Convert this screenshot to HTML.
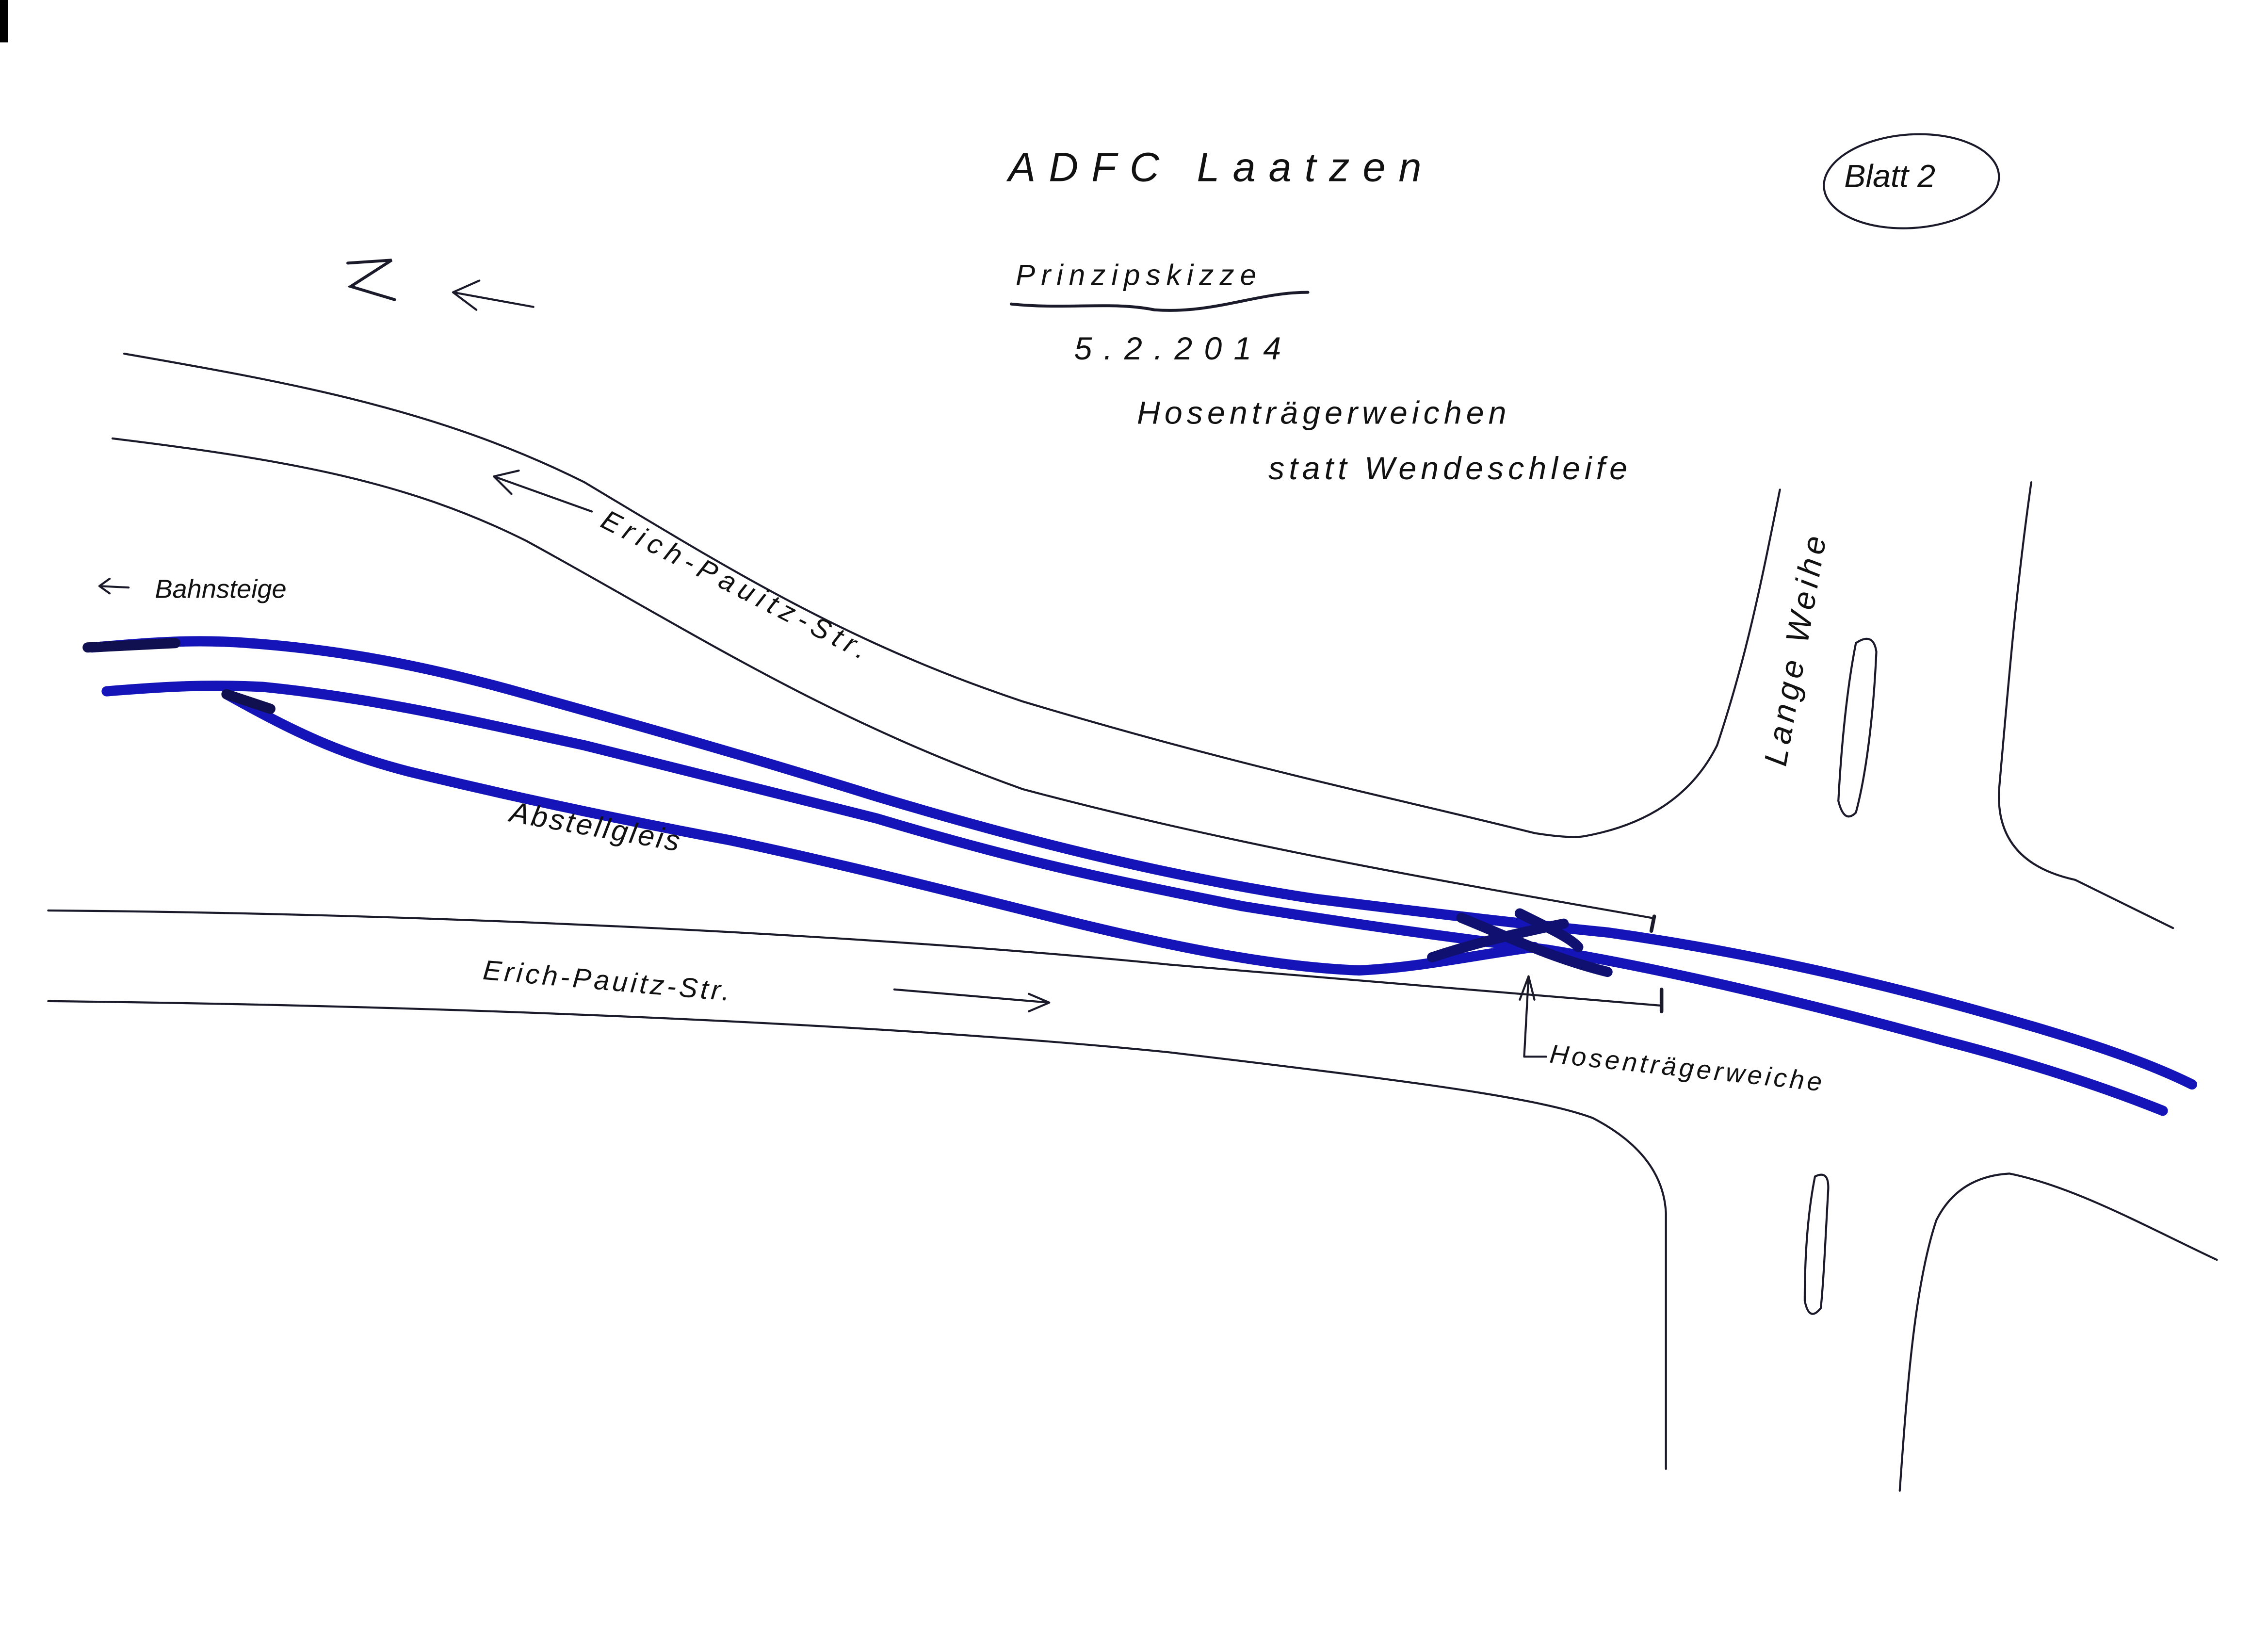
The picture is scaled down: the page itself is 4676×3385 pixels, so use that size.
<!DOCTYPE html>
<html><head><meta charset="utf-8"><style>
html,body{margin:0;padding:0;background:#fff;}
svg{display:block;}
text{font-family:"Liberation Sans",sans-serif;font-style:italic;fill:#111;}
</style></head><body>
<svg width="4676" height="3385" viewBox="0 0 1552 1123.5" xmlns="http://www.w3.org/2000/svg">
<rect x="0" y="0" width="1552" height="1124" fill="#fff"/>
<rect x="0" y="0" width="5.6" height="29" fill="#000"/>
<g fill="none" stroke="#1a1a2a" stroke-width="1.4" stroke-linecap="round">
<path d="M85,242 C200,262 300,280 400,330 C500,390 580,440 700,480 C850,525 950,545 1050,570 Q1075,574 1085,572 Q1150,560 1175,510 C1195,450 1205,400 1218,335"/>
<path d="M77,300 C200,315 280,330 360,370 C470,430 560,490 700,540 C850,580 1000,605 1130,628"/>
<path d="M33,623 C300,625 600,640 800,660 C950,672 1050,680 1136,688"/>
<path d="M33,685 C300,688 600,700 800,720 C950,738 1050,750 1090,765 Q1138,790 1140,830 L1140,1005"/>
<path d="M1390,330 C1380,400 1375,460 1368,540 Q1365,590 1420,602 L1487,635"/>
<path d="M1300,1020 C1305,950 1310,880 1325,835 Q1340,805 1375,803 C1420,812 1470,840 1517,862"/>
<path d="M1270,440 Q1282,432 1284,446 C1282,490 1277,530 1270,556 Q1262,564 1258,548 C1260,510 1264,470 1270,440Z"/>
<path d="M1242,805 Q1252,800 1251,815 C1249,850 1248,875 1246,895 Q1238,905 1235,890 C1235,860 1237,830 1242,805Z"/>
<path d="M310,200 L365,210 M310,200 L328,192 M310,200 L326,212"/>
<path d="M338,326 L405,350 M338,326 L355,322 M338,326 L350,338"/>
<path d="M612,677 L718,686 M718,686 L704,680 M718,686 L704,692"/>
<path d="M68,401 L88,402 M68,401 L75,396 M68,401 L75,406"/>
<path d="M1043,723 L1046,668 M1046,668 L1040,684 M1046,668 L1050,684 M1043,723 L1058,723"/>
<path d="M692,208 C730,212 760,206 790,212 C830,215 860,200 895,200" stroke-width="2"/>
<path d="M1132,627 l-2,10 M1137,677 l0,15" stroke-width="2.5"/>
<ellipse cx="1308" cy="124" rx="60" ry="32" transform="rotate(-4 1308 124)"/>
<path d="M238,180 L268,178 L240,196 L270,205" stroke-width="2"/>
</g>
<g fill="none" stroke-linecap="round" stroke-linejoin="round">
<path d="M63,443 C100,440 130,437 170,440 C240,445 300,458 360,475 C450,500 520,520 600,545 C700,575 800,600 900,615 C980,625 1040,632 1100,638 C1200,652 1300,675 1400,705 C1450,720 1480,732 1500,742" stroke="#1414b8" stroke-width="7"/>
<path d="M73,473 C110,470 140,468 180,470 C260,478 330,495 400,510 C480,530 540,545 600,560 C700,590 760,602 850,620 C950,636 1000,642 1060,650 C1150,665 1250,690 1330,712 C1400,730 1450,748 1480,760" stroke="#1414b8" stroke-width="7"/>
<path d="M155,475 C200,500 230,515 280,528 C350,545 420,560 500,575 C580,592 650,610 730,630 C820,652 880,662 930,664 C970,662 1000,655 1050,648" stroke="#1414b8" stroke-width="7"/>
<path d="M1000,628 C1030,640 1060,655 1100,665 M1040,625 C1060,635 1075,642 1080,648 M980,655 C1010,645 1040,638 1070,632" stroke="#101070" stroke-width="7"/>
<path d="M60,443 L120,440 M155,475 L185,485" stroke="#101050" stroke-width="7"/>
</g>
<text x="690" y="124" font-size="28" letter-spacing="9">ADFC Laatzen</text>
<text x="1262" y="128" font-size="22">Blatt 2</text>
<text x="695" y="195" font-size="20" letter-spacing="4">Prinzipskizze</text>
<text x="735" y="246" font-size="22" letter-spacing="8">5.2.2014</text>
<text x="778" y="290" font-size="22" letter-spacing="3">Hosenträgerweichen</text>
<text x="868" y="328" font-size="22" letter-spacing="3">statt Wendeschleife</text>
<text x="106" y="409" font-size="18">Bahnsteige</text>
<text x="410" y="360" font-size="19" letter-spacing="4" transform="rotate(27 410 360)">Erich-Pauitz-Str.</text>
<text x="348" y="562" font-size="20" letter-spacing="1.5" transform="rotate(10 348 562)">Abstellgleis</text>
<text x="330" y="670" font-size="19" letter-spacing="2" transform="rotate(5 330 670)">Erich-Pauitz-Str.</text>
<text x="1222" y="525" font-size="22" letter-spacing="3" transform="rotate(-80 1222 525)">Lange Weihe</text>
<text x="1060" y="727" font-size="18" letter-spacing="2" transform="rotate(6 1060 727)">Hosenträgerweiche</text>
</svg>
</body></html>
